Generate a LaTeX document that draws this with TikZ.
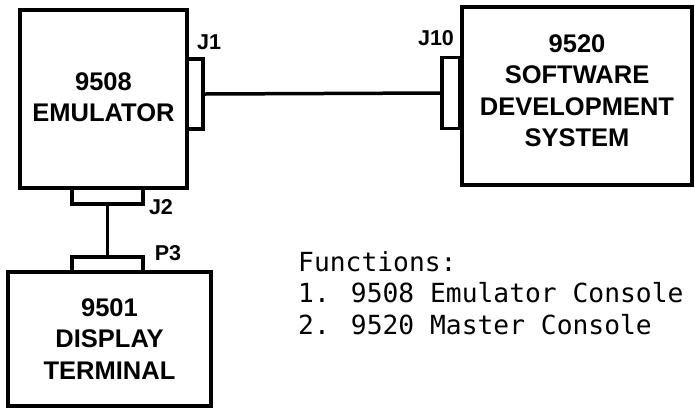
\documentclass[tikz,border=0pt]{standalone}
\usepackage{fontspec}
\setmainfont{Liberation Sans}
\newfontfamily\plotfont{DejaVu Sans Mono}
\usetikzlibrary{positioning}

\begin{document}
\begin{tikzpicture}[x=1pt, y=-1pt,
    unitbox/.style={rectangle, draw=black, line width=4.5pt, align=center,
      font=\fontsize{25.5}{31.5}\selectfont\bfseries, inner sep=0pt},
    plugbox/.style={rectangle, draw=black, line width=3.5pt, inner sep=0pt},
    plugname/.style={font=\fontsize{21.5}{24}\selectfont\bfseries, inner sep=0pt},
    cable/.style={draw=black, line width=3.5pt}
  ]
    \useasboundingbox (0,0) rectangle (695,408);

    % Units
    \node[unitbox, minimum width=167pt, minimum height=178pt, text depth=4pt] (emu)  at (103.5,99)
      {9508\\EMULATOR};
    \node[unitbox, minimum width=230pt, minimum height=178pt, text depth=11pt] (sds)  at (577,96)
      {9520\\SOFTWARE\\DEVELOPMENT\\SYSTEM};
    \node[unitbox, minimum width=203pt, minimum height=134pt] (term) at (109.5,339)
      {9501\\DISPLAY\\TERMINAL};

    % Connectors
    \node[plugbox, minimum width=16pt, minimum height=70pt] (j1)  at (195,94)    {};
    \node[plugbox, minimum width=18pt, minimum height=71pt] (j10) at (451,93)    {};
    \node[plugbox, minimum width=71pt, minimum height=16pt] (j2)  at (107.5,196) {};
    \node[plugbox, minimum width=71pt, minimum height=15pt] (p3)  at (107.5,264.5) {};

    \node[plugname] (j1name)  at (209,42)  {J1};
    \node[plugname] (j10name) at (436,38)  {J10};
    \node[plugname] (j2name)  at (161,207) {J2};
    \node[plugname] (p3name)  at (168,253) {P3};

    % Cables
    \draw[cable] (j1.east) -- (j10.west);
    \draw[cable] (j2.south) -- (p3.north);

    % Functions note
    \node[font=\plotfont\fontsize{26.3}{31.5}\selectfont, align=left, anchor=west,
      inner sep=0pt] (note) at (298,293)
      {Functions:\\1. 9508 Emulator Console\\2. 9520 Master Console};
\end{tikzpicture}
\end{document}
